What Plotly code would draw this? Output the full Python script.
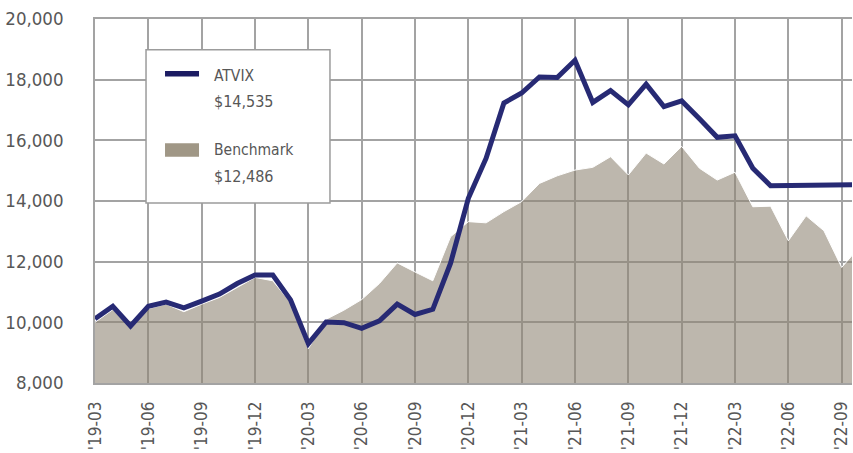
import plotly.graph_objects as go

# Monthly categories from '19-03 to '22-10
months = ["'19-03", "'19-04", "'19-05", "'19-06", "'19-07", "'19-08", "'19-09", "'19-10", "'19-11", "'19-12",
          "'20-01", "'20-02", "'20-03", "'20-04", "'20-05", "'20-06", "'20-07", "'20-08", "'20-09", "'20-10",
          "'20-11", "'20-12", "'21-01", "'21-02", "'21-03", "'21-04", "'21-05", "'21-06", "'21-07", "'21-08",
          "'21-09", "'21-10", "'21-11", "'21-12", "'22-01", "'22-02", "'22-03", "'22-04", "'22-05", "'22-06",
          "'22-07", "'22-08", "'22-09", "'22-10"]

atvix = [10120, 10530, 9880, 10530, 10670, 10480, 10700, 10930, 11280, 11560,
         11560, 10740, 9300, 10010, 9990, 9800, 10050, 10600, 10260, 10430,
         11950, 14090, 15410, 17230, 17560, 18090, 18070, 18640, 17250, 17640,
         17170, 17850, 17110, 17300, 16710, 16100, 16150, 15080, 14500, 14500,
         14500, 14505, 14515, 14535]

benchmark = [10000, 10420, 9850, 10450, 10600, 10350, 10600, 10820, 11150, 11480,
             11370, 10650, 9130, 10100, 10400, 10750, 11280, 11960, 11660, 11370,
             12820, 13320, 13280, 13650, 13980, 14580, 14830, 15020, 15110, 15460,
             14860, 15580, 15220, 15800, 15080, 14690, 14950, 13810, 13830, 12690,
             13510, 13020, 11810, 12486]

tick_labels = ["'19-03", "'19-06", "'19-09", "'19-12", "'20-03", "'20-06", "'20-09", "'20-12",
               "'21-03", "'21-06", "'21-09", "'21-12", "'22-03", "'22-06", "'22-09"]
y_ticks = [8000, 10000, 12000, 14000, 16000, 18000, 20000]

legend_names = ["ATVIX", "Benchmark"]
legend_values = ["$14,535", "$12,486"]

FONT = "DejaVu Sans Condensed, Liberation Sans Narrow, sans-serif"
TEXT = "#575757"
GRID = "#a3a3a3"
NAVY = "#272a74"

fig = go.Figure()
fig.add_trace(go.Scatter(
    x=months, y=benchmark, mode="lines", fill="tozeroy",
    fillcolor="rgba(143,133,116,0.59)",
    line=dict(color="white", width=1), name="Benchmark", showlegend=False,
    hoverinfo="skip"))
fig.add_trace(go.Scatter(
    x=months, y=atvix, mode="lines",
    line=dict(color=NAVY, width=5), name="ATVIX", showlegend=False))

# custom legend box
shapes = [
    dict(type="rect", xref="paper", yref="paper", x0=0.0674, x1=0.3104, y0=0.4945, y1=0.9155,
         fillcolor="white", line=dict(color="#9c9c9c", width=1.5), layer="above"),
    dict(type="line", xref="paper", yref="paper", x0=0.0925, x1=0.1374, y0=0.8495, y1=0.8495,
         line=dict(color="#1c1c63", width=5.5), layer="above"),
    dict(type="rect", xref="paper", yref="paper", x0=0.0925, x1=0.1374, y0=0.6219, y1=0.6588,
         fillcolor="#a09786", line=dict(width=0), layer="above"),
]
annos = []
ys = [(0.8440, 0.7733), (0.6403, 0.5669)]
for (y1, y2), nm, val in zip(ys, legend_names, legend_values):
    annos.append(dict(xref="paper", yref="paper", x=0.1545, y=y1, text=nm, showarrow=False,
                      xanchor="left", yanchor="middle", font=dict(family=FONT, size=15.5, color=TEXT)))
    annos.append(dict(xref="paper", yref="paper", x=0.1545, y=y2, text=val, showarrow=False,
                      xanchor="left", yanchor="middle", font=dict(family=FONT, size=16, color=TEXT)))

fig.update_layout(
    width=853, height=453,
    margin=dict(l=95, r=1, t=19, b=70),
    paper_bgcolor="white", plot_bgcolor="white",
    shapes=shapes, annotations=annos,
    font=dict(family=FONT, color=TEXT),
    xaxis=dict(type="category", range=[0, 42.58], tickmode="array", tickvals=tick_labels,
               ticktext=tick_labels, tickangle=-90, showgrid=True, gridcolor=GRID, gridwidth=1.5,
               showline=True, mirror=True, linecolor=GRID, linewidth=1.5, ticks="",
               automargin=False,
               ticklabelstandoff=10, tickfont=dict(family=FONT, size=17, color=TEXT), fixedrange=True),
    yaxis=dict(range=[8000, 20000], tickmode="array", tickvals=y_ticks, tickformat=",d",
               showgrid=True, gridcolor=GRID, gridwidth=1.5, zeroline=False,
               showline=True, linecolor=GRID, linewidth=1.5, ticks="",
               automargin=False,
               ticklabelstandoff=26, tickfont=dict(family=FONT, size=18.5, color=TEXT), fixedrange=True),
)

# remove the default page margin so the figure sits at the window's top-left corner
fig.write_html("out.html", config={"displayModeBar": False},
               post_script="document.body.style.margin='0';document.body.style.overflow='hidden';")
